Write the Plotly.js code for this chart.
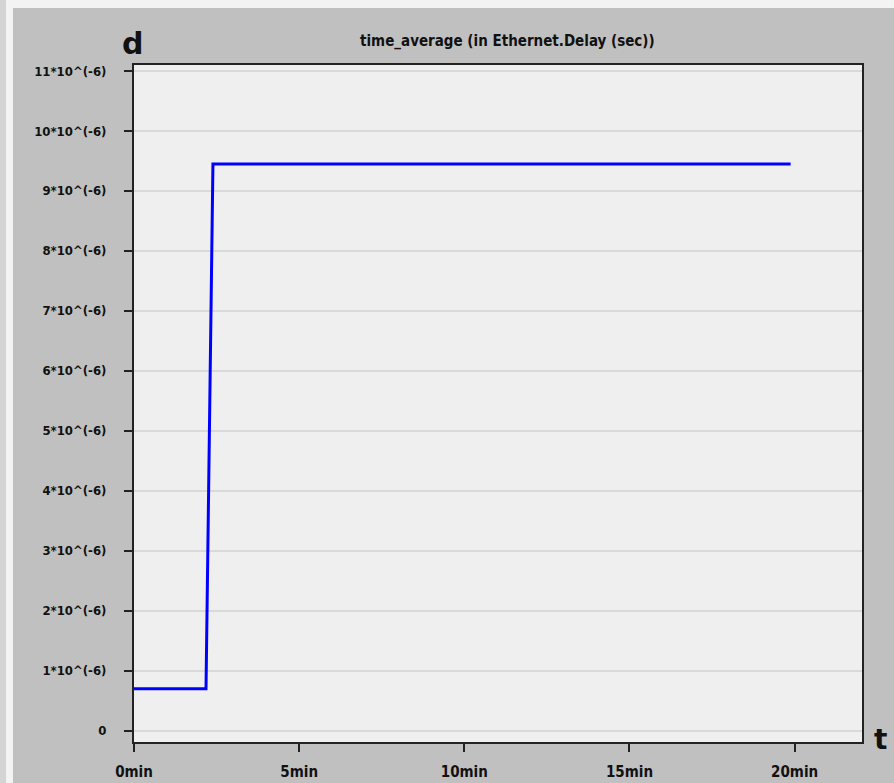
<!DOCTYPE html>
<html>
<head>
<meta charset="utf-8">
<script src="https://cdn.plot.ly/plotly-3.0.1.min.js"></script>
<style>
html,body{margin:0;padding:0;width:894px;height:783px;overflow:hidden;background:#f3f3f3;}
#edge{position:absolute;left:0;top:0;width:6px;height:783px;background:#d4d4d4;}
#chart{position:absolute;left:13px;top:8px;width:881px;height:775px;}
</style>
</head>
<body>
<div id="edge"></div>
<div id="chart"></div>
<script>
// Data
var timeMin = [0, 2.18, 2.39, 19.88];
var delaySec = [0.7e-6, 0.7e-6, 9.45e-6, 9.45e-6];

var yTickVals = [0, 1e-6, 2e-6, 3e-6, 4e-6, 5e-6, 6e-6, 7e-6, 8e-6, 9e-6, 10e-6, 11e-6];
var yTickText = ['0', '1*10^(-6)', '2*10^(-6)', '3*10^(-6)', '4*10^(-6)', '5*10^(-6)',
                 '6*10^(-6)', '7*10^(-6)', '8*10^(-6)', '9*10^(-6)', '10*10^(-6)', '11*10^(-6)'];
var xTickVals = [0, 5, 10, 15, 20];
var xTickText = ['0min', '5min', '10min', '15min', '20min'];

var FONT = '"DejaVu Sans Condensed", "Liberation Sans Narrow", sans-serif';

var trace = {
  x: timeMin,
  y: delaySec,
  type: 'scatter',
  mode: 'lines',
  line: {color: '#0000ff', width: 3},
  hoverinfo: 'skip'
};

var layout = {
  width: 881,
  height: 775,
  margin: {l: 121, r: 32, t: 57, b: 41},
  paper_bgcolor: '#c0c0c0',
  plot_bgcolor: '#efefef',
  showlegend: false,
  font: {family: FONT, color: '#111111'},
  xaxis: {
    range: [0, 22.04],
    tickvals: xTickVals,
    ticktext: xTickText,
    ticks: 'outside',
    ticklen: 8,
    tickwidth: 2,
    tickcolor: '#222222',
    showgrid: false,
    zeroline: false,
    showline: true,
    linecolor: '#222222',
    linewidth: 2,
    mirror: true,
    ticklabelstandoff: 7,
    tickfont: {family: FONT, size: 15, color: '#111111', weight: 'bold'}
  },
  yaxis: {
    range: [-0.19e-6, 11.1e-6],
    tickvals: yTickVals,
    ticktext: yTickText,
    ticks: 'outside',
    ticklen: 8,
    tickwidth: 2,
    tickcolor: '#222222',
    showgrid: true,
    gridcolor: '#d9d9d9',
    gridwidth: 2,
    zeroline: false,
    showline: true,
    linecolor: '#222222',
    linewidth: 2,
    mirror: true,
    ticklabelstandoff: 15,
    tickfont: {family: FONT, size: 13, color: '#111111', weight: 'bold'}
  },
  annotations: [
    {
      text: 'time_average (in Ethernet.Delay (sec))',
      xref: 'paper', yref: 'paper',
      x: 0.5125, y: 1.0, yshift: 24,
      xanchor: 'center', yanchor: 'middle',
      showarrow: false,
      font: {family: FONT, size: 15, color: '#111111', weight: 'bold'}
    },
    {
      text: 'd',
      xref: 'paper', yref: 'paper',
      x: 0, y: 1.0, xshift: -2, yshift: 22,
      xanchor: 'center', yanchor: 'middle',
      showarrow: false,
      font: {family: '"DejaVu Sans", sans-serif', size: 30, color: '#111111', weight: 'bold'}
    },
    {
      text: 't',
      xref: 'paper', yref: 'paper',
      x: 1.0, y: 0, xshift: 18, yshift: 3,
      xanchor: 'center', yanchor: 'middle',
      showarrow: false,
      font: {family: '"DejaVu Sans", sans-serif', size: 28, color: '#111111', weight: 'bold'}
    }
  ]
};

Plotly.newPlot('chart', [trace], layout, {displayModeBar: false, staticPlot: true});
</script>
</body>
</html>
